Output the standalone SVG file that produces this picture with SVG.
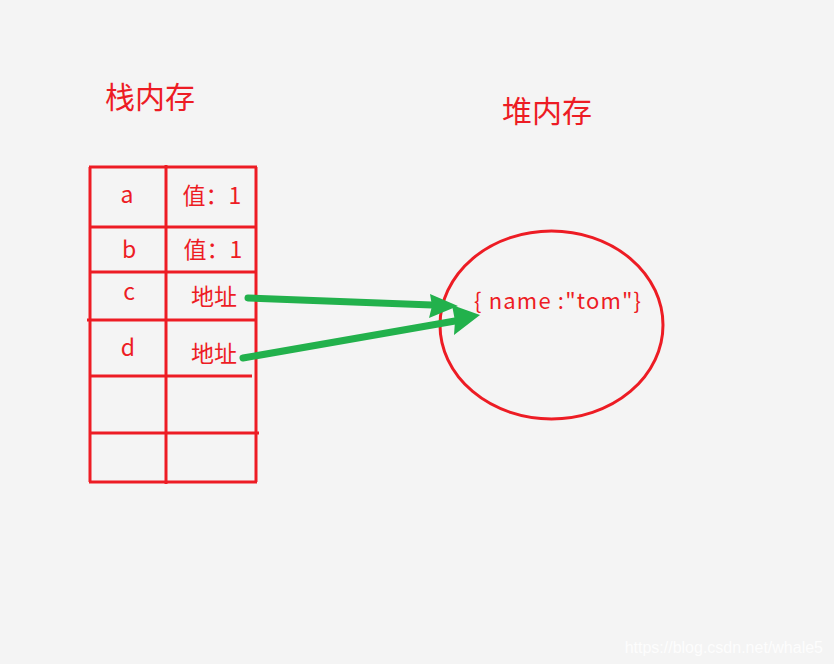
<svg xmlns="http://www.w3.org/2000/svg" width="834" height="664" viewBox="0 0 834 664">
<defs>
<style>
.ln{stroke:#ed1c24;stroke-width:3;fill:none}
.t{fill:#ed1c24;font-family:"Microsoft YaHei","Noto Sans CJK SC","Noto Sans",sans-serif}
.c{font-size:23px;text-anchor:middle}
.arw{stroke:#22b14c;stroke-width:7;stroke-linecap:round;fill:none}
.hd{fill:#22b14c}
</style>
</defs>
<rect width="834" height="664" fill="#f4f4f4"/>
<g id="title-stack"><text class="t" x="105" y="108" font-size="30" textLength="90">栈内存</text></g>
<g id="title-heap"><text class="t" x="502" y="122" font-size="30" textLength="90">堆内存</text></g>
<g id="stack-table">
<line class="ln" x1="90" y1="167" x2="90" y2="482"/>
<line class="ln" x1="256" y1="167" x2="256" y2="482"/>
<line class="ln" x1="166" y1="165" x2="166" y2="484"/>
<line class="ln" x1="89" y1="167" x2="257" y2="167"/>
<line class="ln" x1="89" y1="227" x2="257" y2="227"/>
<line class="ln" x1="89" y1="272" x2="257" y2="272"/>
<line class="ln" x1="87" y1="320" x2="257" y2="320"/>
<line class="ln" x1="89" y1="376" x2="252" y2="376"/>
<line class="ln" x1="89" y1="433" x2="259" y2="433"/>
<line class="ln" x1="89" y1="482" x2="257" y2="482"/>
</g>
<g id="row-a"><text class="t c" x="127" y="203">a</text><text class="t c" x="212" y="204">值：1</text></g>
<g id="row-b"><text class="t c" x="129" y="258">b</text><text class="t c" x="213" y="258">值：1</text></g>
<g id="row-c"><text class="t c" x="129" y="300">c</text><text class="t c" x="214" y="305">地址</text></g>
<g id="row-d"><text class="t c" x="128" y="356">d</text><text class="t c" x="214" y="362">地址</text></g>
<g id="heap-object">
<ellipse class="ln" cx="551.5" cy="325" rx="111.5" ry="94"/>
<text class="t" x="474" y="309" font-size="22" textLength="167">{ name :"tom"}</text>
</g>
<g id="connectors">
<line class="arw" x1="248" y1="298" x2="432" y2="305"/>
<polygon class="hd" points="458,306 430,294 432,306 429,318"/>
<line class="arw" x1="243" y1="358" x2="455" y2="321"/>
<polygon class="hd" points="480,315 452,305 455,321 454,335"/>
</g>
<text x="823" y="653" font-family="Liberation Sans,Arial,sans-serif" font-size="16" fill="#ffffff" fill-opacity="0.85" text-anchor="end">https://blog.csdn.net/whale5</text>
</svg>
